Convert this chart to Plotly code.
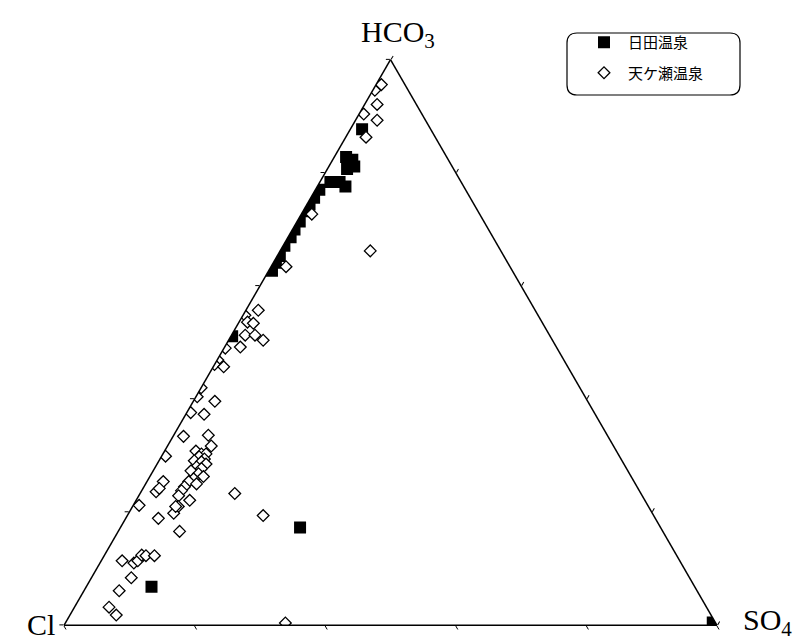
import plotly.graph_objects as go

# Ternary composition (%): HCO3 (top), SO4 (right); Cl is the remainder
hita_hco3 = [87.7, 82.8, 82.3, 80.7, 81.1, 78.4, 77.6, 78.4, 77.0, 75.6, 74.4, 73.2,
             71.4, 70.0, 68.6, 67.1, 65.3, 64.1, 62.7, 51.1, 17.3, 6.8, 0.5]
hita_so4 = [1.8, 1.8, 3.0, 3.0, 3.9, 3.0, 4.3, 1.6, 0.6, 0.5, 0.4, 0.5,
            0.4, 0.3, 0.4, 0.2, 0.4, 0.4, 0.5, 0.2, 27.5, 10.0, 99.1]

amagase_hco3 = [95.6, 94.6, 92.1, 90.4, 89.3, 86.3, 66.2, 72.7, 63.4, 55.7, 54.8, 53.6,
                53.4, 51.3, 51.3, 50.4, 49.2, 49.0, 46.9, 46.1, 45.7, 42.0, 40.4, 39.6,
                37.6, 37.3, 33.4, 33.6, 31.7, 29.9, 30.8, 30.3, 30.3, 29.8, 29.4, 29.1,
                28.9, 28.5, 28.0, 27.7, 27.3, 26.8, 26.3, 25.9, 25.4, 25.0, 24.5, 23.8,
                22.9, 22.1, 21.0, 25.4, 23.6, 24.2, 21.2, 18.9, 19.8, 21.0, 16.6, 23.3,
                19.4, 0.4, 11.4, 11.0, 11.4, 12.4, 12.3, 12.3, 8.4, 6.1, 3.2, 1.8]
amagase_so4 = [0.8, 0.3, 1.9, 0.7, 3.3, 3.1, 13.8, 1.6, 2.3, 1.9, 0.3, 1.3,
               2.3, 2.1, 3.6, 5.3, 2.4, 0.2, 0.1, 0.0, 1.6, 0.0, 0.2, 3.3,
               0.6, 2.8, 1.6, 5.3, 6.7, 0.6, 4.8, 5.9, 6.6, 5.8, 6.8, 5.4,
               6.6, 7.5, 6.3, 7.2, 5.8, 7.2, 8.2, 6.9, 6.4, 7.8, 6.2, 6.1,
               6.1, 8.2, 7.0, 2.5, 2.3, 2.5, 0.9, 5.0, 6.9, 6.6, 9.4, 14.5,
               20.8, 33.7, 3.2, 5.2, 5.6, 5.7, 6.4, 7.7, 6.1, 5.4, 5.3, 7.1]

series_names = ["日田温泉", "天ケ瀬温泉"]
vertex_labels = ["HCO<sub>3</sub>", "Cl", "SO<sub>4</sub>"]

W, H = 805, 641

fig = go.Figure()
fig.add_trace(go.Scatterternary(
    a=hita_hco3, c=hita_so4, mode="markers", name=series_names[0],
    legendgroup="g1",
    marker=dict(symbol="square", size=12, color="black", line=dict(width=0)),
))
fig.add_trace(go.Scatterternary(
    a=amagase_hco3, c=amagase_so4, mode="markers", name=series_names[1],
    legendgroup="g2",
    marker=dict(symbol="diamond", size=9, color="white", line=dict(width=1.3, color="black")),
))

axis_style = dict(showticklabels=False, ticks="outside", ticklen=4, tickwidth=1,
                  tickcolor="black", tickmode="linear", tick0=0, dtick=20,
                  linecolor="black", linewidth=1.5, showgrid=False, title=dict(text=""))

cy = 1 - 342.5 / H
hh = 290 / H
fig.update_layout(
    width=W, height=H,
    margin=dict(l=0, r=0, t=0, b=0),
    paper_bgcolor="white",
    ternary=dict(
        sum=100,
        domain=dict(x=[64 / W, 717 / W], y=[cy - hh, cy + hh]),
        bgcolor="white",
        aaxis=axis_style, baxis=axis_style, caxis=axis_style,
    ),
    legend=dict(
        x=580 / W, y=1 - 26 / H, xanchor="left", yanchor="top",
        bgcolor="rgba(0,0,0,0)", borderwidth=0,
        traceorder="grouped", tracegroupgap=8, itemwidth=38,
        font=dict(family="Noto Sans CJK JP", size=15, color="black"),
    ),
    font=dict(family="Liberation Serif", color="black"),
)

# rounded legend frame
x0, x1, y0, y1, r = 567, 740, 33, 95, 10
def px(x): return x / W
def py(y): return 1 - y / H
path = (f"M {px(x0 + r)} {py(y0)} L {px(x1 - r)} {py(y0)} "
        f"Q {px(x1)} {py(y0)} {px(x1)} {py(y0 + r)} L {px(x1)} {py(y1 - r)} "
        f"Q {px(x1)} {py(y1)} {px(x1 - r)} {py(y1)} L {px(x0 + r)} {py(y1)} "
        f"Q {px(x0)} {py(y1)} {px(x0)} {py(y1 - r)} L {px(x0)} {py(y0 + r)} "
        f"Q {px(x0)} {py(y0)} {px(x0 + r)} {py(y0)} Z")
fig.add_shape(type="path", path=path, xref="paper", yref="paper",
              line=dict(color="black", width=1.2), fillcolor="rgba(0,0,0,0)")

lab_font = dict(family="Liberation Serif", size=30, color="black")
fig.add_annotation(text=vertex_labels[0], x=398 / W, y=1 - 34 / H, xref="paper", yref="paper",
                   xanchor="center", yanchor="middle", showarrow=False, font=lab_font)
fig.add_annotation(text=vertex_labels[1], x=57 / W, y=1 - 624 / H, xref="paper", yref="paper",
                   xanchor="right", yanchor="middle", showarrow=False, font=lab_font)
fig.add_annotation(text=vertex_labels[2], x=741 / W, y=1 - 622 / H, xref="paper", yref="paper",
                   xanchor="left", yanchor="middle", showarrow=False, font=lab_font)

fig.write_html("out.html")
